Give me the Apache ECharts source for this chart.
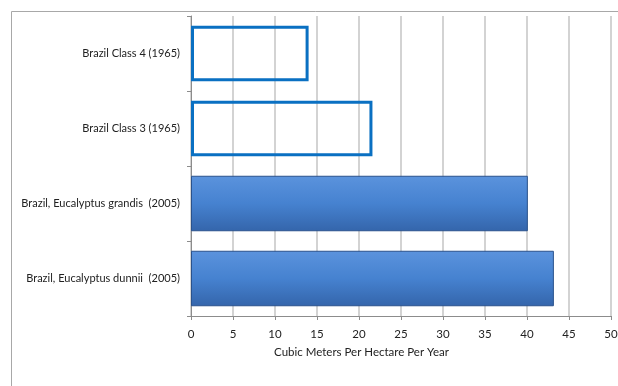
<!DOCTYPE html>
<html>
<head>
<meta charset="utf-8">
<script src="https://cdn.jsdelivr.net/npm/echarts@6/dist/echarts.min.js"></script>
<style>html,body{margin:0;padding:0;background:#fff}#c{width:618px;height:386px}</style>
</head>
<body>
<div id="c"></div>
<script>
// Categories listed bottom-to-top (ECharts category y axis order)
const categories = [
  'Brazil, Eucalyptus dunnii  (2005)',
  'Brazil, Eucalyptus grandis  (2005)',
  'Brazil Class 3 (1965)',
  'Brazil Class 4 (1965)'
];
const values = [43.2, 40.1, 21.6, 14];
const outlined = [false, false, true, true];
const axisTitle = 'Cubic Meters Per Hectare Per Year';

const solidStyle = {
  color: new echarts.graphic.LinearGradient(0, 0, 0, 1, [
    {offset: 0, color: '#5b93dd'},
    {offset: 0.5, color: '#4682d0'},
    {offset: 1, color: '#3465ab'}
  ]),
  borderColor: '#2a528c',
  borderWidth: 1
};
const outlineStyle = {color: 'rgba(255,255,255,0)', borderColor: '#0a70c2', borderWidth: 3};

const chart = echarts.init(document.getElementById('c'));
chart.setOption({
  animation: false,
  backgroundColor: '#fff',
  textStyle: {fontFamily: 'Lato'},
  graphic: [{
    type: 'rect', left: 9, top: 9, silent: true,
    shape: {x: 0, y: 0, width: 700, height: 500},
    style: {fill: 'none', stroke: '#a8a8a8', lineWidth: 1}
  }],
  grid: {left: 191, right: 7, top: 16, bottom: 70, outerBoundsMode: 'none', containLabel: false},
  xAxis: {
    type: 'value', min: 0, max: 50, interval: 5,
    axisLine: {show: true, lineStyle: {color: '#8c8c8c'}},
    axisTick: {show: true, length: 4, lineStyle: {color: '#8c8c8c'}},
    axisLabel: {color: '#222', fontSize: 11.5, margin: 12},
    splitLine: {show: true, lineStyle: {color: '#c4c4c4', width: 1.5}},
    name: axisTitle, nameLocation: 'middle', nameGap: 30,
    nameTextStyle: {color: '#222', fontSize: 11.5, padding: [0, 79, 0, 0]}
  },
  yAxis: {
    type: 'category', data: categories,
    axisLine: {show: true, lineStyle: {color: '#8c8c8c'}},
    axisTick: {show: true, length: 4, lineStyle: {color: '#8c8c8c'}},
    axisLabel: {color: '#222', fontSize: 11, margin: 11}
  },
  series: [{
    type: 'bar',
    barCategoryGap: '26%',
    data: values.map((v, i) => ({value: v, itemStyle: outlined[i] ? outlineStyle : solidStyle}))
  }]
});
</script>
</body>
</html>
